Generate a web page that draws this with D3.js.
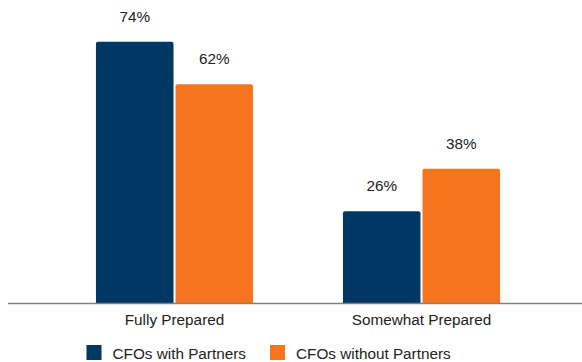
<!DOCTYPE html>
<html>
<head>
<meta charset="utf-8">
<script src="https://cdn.jsdelivr.net/npm/d3@7"></script>
<style>
  html, body { margin: 0; padding: 0; background: #fff; }
  svg { display: block; font-family: "Liberation Sans", Arial, sans-serif; }
</style>
</head>
<body>
<svg id="chart" width="582" height="362"></svg>
<script>
// Share of CFOs by preparedness level
const categories = ["Fully Prepared", "Somewhat Prepared"];
const seriesNames = ["CFOs with Partners", "CFOs without Partners"];
const withPartners = [74, 26];
const withoutPartners = [62, 38];
const colors = ["#003763", "#F7751E"];

const svg = d3.select("#chart");
const baseY = 303;
const fontSize = 15.3;

const x = d3.scaleBand().domain(categories).range([51, 545]).paddingInner(0.364).paddingOuter(0.182);
const xs = d3.scaleBand().domain(seriesNames).range([0, x.bandwidth()]).paddingInner(0.025);
const y = d3.scaleLinear().domain([0, 80]).range([baseY, baseY - 282.4]);

const rows = categories.map((c, i) => ({
  category: c,
  values: [
    { series: seriesNames[0], value: withPartners[i] },
    { series: seriesNames[1], value: withoutPartners[i] }
  ]
}));

// Rounded-top bar path
function barPath(x0, w, yTop, yBase, r) {
  return `M${x0},${yBase}V${yTop + r}Q${x0},${yTop} ${x0 + r},${yTop}H${x0 + w - r}Q${x0 + w},${yTop} ${x0 + w},${yTop + r}V${yBase}Z`;
}

const groups = svg.selectAll("g.group").data(rows).join("g")
  .attr("class", "group")
  .attr("transform", d => `translate(${x(d.category)},0)`);

groups.selectAll("path.bar").data(d => d.values).join("path")
  .attr("class", "bar")
  .attr("d", d => barPath(xs(d.series), xs.bandwidth(), y(d.value), baseY, 2))
  .attr("fill", (d, i) => colors[i]);

groups.selectAll("text.val").data(d => d.values).join("text")
  .attr("class", "val")
  .attr("x", d => xs(d.series) + xs.bandwidth() / 2)
  .attr("y", d => y(d.value) - 20)
  .attr("text-anchor", "middle")
  .attr("font-size", fontSize)
  .attr("fill", "#222")
  .text(d => d.value + "%");

// Baseline
svg.append("line")
  .attr("x1", 8).attr("x2", 582)
  .attr("y1", baseY + 0.5).attr("y2", baseY + 0.5)
  .attr("stroke", "#808080").attr("stroke-width", 1.5);

// Category labels
const xAxis = svg.append("g").attr("transform", `translate(0,${baseY})`)
  .call(d3.axisBottom(x).tickSize(0).tickPadding(11));
xAxis.select(".domain").remove();
xAxis.selectAll("text")
  .attr("font-size", fontSize)
  .attr("font-family", "Liberation Sans, Arial, sans-serif")
  .attr("fill", "#222");

// Legend
const legendX = [86.5, 270];
const legend = svg.selectAll("g.legend").data(seriesNames).join("g")
  .attr("class", "legend")
  .attr("transform", (d, i) => `translate(${legendX[i]},345)`);
legend.append("rect")
  .attr("width", 15).attr("height", 15)
  .attr("fill", (d, i) => colors[i]);
legend.append("text")
  .attr("x", 26).attr("y", 14)
  .attr("font-size", fontSize)
  .attr("fill", "#222")
  .text(d => d);
</script>
</body>
</html>
